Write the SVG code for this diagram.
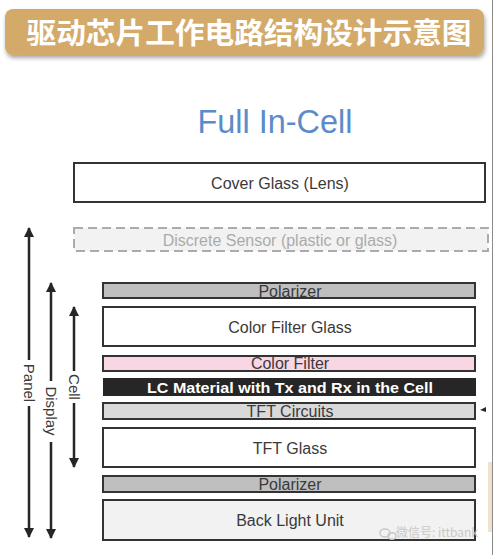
<svg xmlns="http://www.w3.org/2000/svg" width="494" height="555" viewBox="0 0 494 555">
<defs>
<style>
.t{font-family:"Liberation Sans","Noto Sans",Arial,sans-serif;font-size:16px;fill:#3a3a3a;text-anchor:middle}
.box{stroke:#333;stroke-width:2}
.ax{stroke:#262626;stroke-width:2.5;fill:none}
.lab{font-family:"Liberation Sans","Noto Sans",Arial,sans-serif;font-size:15px;fill:#3a3a3a;text-anchor:middle}
</style>
<marker id="ah" viewBox="0 0 10 10" refX="9" refY="5" markerWidth="4" markerHeight="4.4" orient="auto" markerUnits="strokeWidth">
<path d="M0,0 L10,5 L0,10 z" fill="#262626"/>
</marker>
<filter id="sh" x="-5%" y="-20%" width="110%" height="150%">
<feDropShadow dx="1" dy="3" stdDeviation="2" flood-color="#000" flood-opacity="0.35"/>
</filter>
</defs>
<rect width="494" height="555" fill="#fff"/>
<line x1="492.5" y1="0" x2="492.5" y2="555" stroke="#8a8a8a" stroke-width="1"/>
<rect x="488" y="462" width="4" height="70" fill="#efe3cf"/>

<g id="title">
<rect x="5" y="9" width="479" height="46" rx="8" fill="#d3aa6b" filter="url(#sh)"/>
<text x="249" y="44" font-family="'Noto Sans CJK SC','Noto Sans CJK JP',sans-serif" font-size="29" font-weight="bold" fill="#fff" text-anchor="middle" textLength="445" lengthAdjust="spacingAndGlyphs">驱动芯片工作电路结构设计示意图</text>
</g>

<g id="heading">
<text x="275" y="133" font-family="'Liberation Sans','Noto Sans',Arial,sans-serif" font-size="33" fill="#5b8bc9" text-anchor="middle" textLength="155" lengthAdjust="spacingAndGlyphs">Full In-Cell</text>
</g>

<g id="cover-glass">
<rect class="box" x="74" y="163" width="411" height="39" fill="#fff"/>
<text class="t" x="280" y="189">Cover Glass (Lens)</text>
</g>
<g id="discrete-sensor">
<rect x="74" y="228" width="414" height="23" fill="#f2f2f2" stroke="#ababab" stroke-width="2" stroke-dasharray="9,5"/>
<text class="t" x="280" y="246" fill="#ababab" style="fill:#ababab">Discrete Sensor (plastic or glass)</text>
</g>
<g id="polarizer-top">
<rect class="box" x="103" y="283" width="372" height="15" fill="#bfbfbf"/>
<text class="t" x="290" y="297">Polarizer</text>
</g>
<g id="cf-glass">
<rect class="box" x="103" y="307" width="372" height="39" fill="#fff"/>
<text class="t" x="290" y="333">Color Filter Glass</text>
</g>
<g id="color-filter">
<rect class="box" x="103" y="356" width="372" height="15" fill="#f8d6e4"/>
<text class="t" x="290" y="369">Color Filter</text>
</g>
<g id="lc-material">
<rect x="103" y="378" width="373" height="18" fill="#262626"/>
<text x="290" y="393" font-family="'Liberation Sans','Noto Sans',Arial,sans-serif" font-size="15" font-weight="bold" fill="#fff" text-anchor="middle" textLength="286" lengthAdjust="spacingAndGlyphs">LC Material with Tx and Rx in the Cell</text>
</g>
<g id="tft-circuits">
<rect class="box" x="103" y="403" width="372" height="16" fill="#d9d9d9"/>
<text class="t" x="290" y="417">TFT Circuits</text>
</g>
<g id="tft-glass">
<rect class="box" x="103" y="428" width="372" height="39" fill="#fff"/>
<text class="t" x="290" y="454">TFT Glass</text>
</g>
<g id="polarizer-bottom">
<rect class="box" x="103" y="476" width="372" height="16" fill="#bfbfbf"/>
<text class="t" x="290" y="490">Polarizer</text>
</g>
<g id="backlight">
<rect class="box" x="103" y="500" width="372" height="40" fill="#f2f2f2"/>
<text class="t" x="290" y="526">Back Light Unit</text>
</g>

<g id="connectors">
<line class="ax" x1="29" y1="360" x2="29" y2="228" marker-end="url(#ah)"/>
<line class="ax" x1="29" y1="406" x2="29" y2="537" marker-end="url(#ah)"/>
<line class="ax" x1="51" y1="381" x2="51" y2="283" marker-end="url(#ah)"/>
<line class="ax" x1="51" y1="442" x2="51" y2="538" marker-end="url(#ah)"/>
<line class="ax" x1="74" y1="371" x2="74" y2="307" marker-end="url(#ah)"/>
<line class="ax" x1="74" y1="403" x2="74" y2="467" marker-end="url(#ah)"/>
<polygon points="480,410 486,407 486,412" fill="#262626"/>
</g>
<g id="labels">
<text class="lab" transform="translate(29,383) rotate(90)" y="5">Panel</text>
<text class="lab" transform="translate(51,411) rotate(90)" y="5">Display</text>
<text class="lab" transform="translate(74,387) rotate(90)" y="5">Cell</text>
</g>

<g id="watermark">
<ellipse cx="385" cy="533" rx="5" ry="4" fill="none" stroke="#c8c8c8" stroke-width="1.5"/>
<ellipse cx="392" cy="536" rx="4" ry="3.3" fill="none" stroke="#c8c8c8" stroke-width="1.5"/>
<text x="396" y="537" font-family="'Noto Sans CJK SC','Liberation Sans',sans-serif" font-size="12" fill="#c8c8c8" textLength="82" lengthAdjust="spacingAndGlyphs">微信号: ittbank</text>
</g>
</svg>
